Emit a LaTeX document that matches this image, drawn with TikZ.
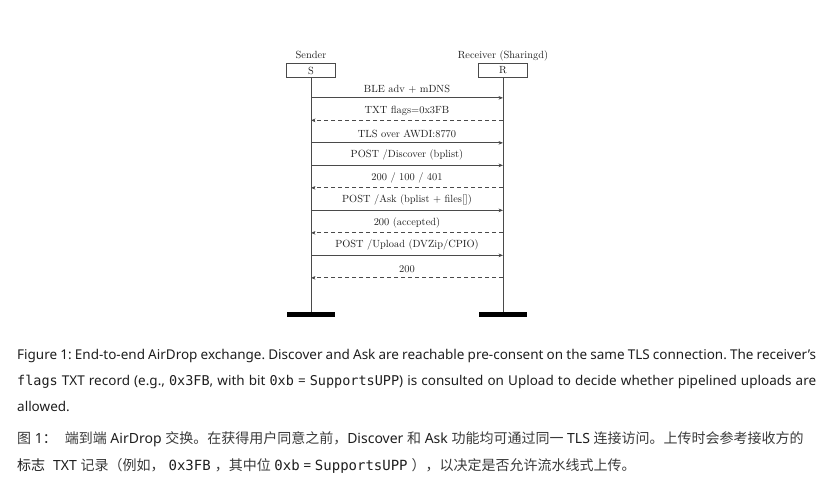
\documentclass[tikz,border=0pt]{standalone}
\usepackage{fontspec}
\usetikzlibrary{arrows.meta,calc,positioning}
\newfontfamily\capfont{Noto Sans}
\newfontfamily\capmono{DejaVu Sans Mono}
\newfontfamily\cjkfont{Noto Sans CJK SC}
\definecolor{InkDark}{HTML}{1E1E1E}
\definecolor{InkLine}{HTML}{4A4A4A}
\definecolor{InkCJK}{HTML}{3A3A3A}
\newcommand{\seqfont}{\fontsize{10.4}{12}\selectfont}
\newcommand{\capsize}{\fontsize{13.5}{16}\selectfont}
\newcommand{\zhsize}{\fontsize{14}{17}\selectfont}
\newcommand{\cm}[1]{{\capmono #1}}
\tikzset{
  actor/.style={rectangle, draw=InkLine, line width=0.7pt, minimum width=49pt,
             minimum height=14pt, inner sep=0pt, font=\seqfont, text=InkDark},
  alabel/.style={font=\seqfont, text=InkDark, inner sep=0pt, anchor=base},
  lifeline/.style={line width=0.9pt, draw=InkLine},
  endbar/.style={rectangle, fill=black, minimum width=48pt, minimum height=5pt, inner sep=0pt},
  capline/.style={font=\capfont\capsize\frenchspacing, text=InkDark, inner sep=0pt, anchor=base west},
  zhline/.style={capline, font=\capfont\zhsize},
}
\begin{document}
\begin{tikzpicture}[x=1pt, y=-1pt,
  msg/.style={-{Stealth[length=4.5pt, width=3.6pt]}, line width=0.8pt, draw=InkLine},
  reply/.style={msg, dashed, dash pattern=on 4pt off 3pt},
  mlabel/.style={font=\seqfont, text=InkDark, inner sep=0pt, above=4.5pt},
]
\useasboundingbox (0,0) rectangle (839,490);
% ---------- actors
\node[actor] (S) at (311,70.5) {S};
\node[actor] (R) at (503,70.5) {R};
\node[alabel] (Slbl) at (311,58.5) {Sender};
\node[alabel] (Rlbl) at (503,58.5) {Receiver (Sharingd)};
\node[endbar] (Sbar) at (311,314.5) {};
\node[endbar] (Rbar) at (503,314.5) {};
\draw[lifeline] (S.south) -- (Sbar.north);
\draw[lifeline] (R.south) -- (Rbar.north);
% ---------- messages (s = sender to receiver, r = reply)
\foreach \i/\kind/\txt in {0/s/{BLE adv + mDNS},1/r/{TXT flags=0x3FB},2/s/{TLS over AWDI:8770},
    3/s/{POST /Discover (bplist)},4/r/{200 / 100 / 401},5/s/{POST /Ask (bplist + files[])},
    6/r/{200 (accepted)},7/s/{POST /Upload (DVZip/CPIO)},8/r/{200}}{
  \coordinate (s\i) at ($(S.south) + (0,20+22.5*\i)$);
  \coordinate (r\i) at ($(R.south) + (0,20+22.5*\i)$);
  \if\kind s
    \draw[msg] (s\i) -- node[mlabel] (m\i) {\txt} (r\i);
  \else
    \draw[reply] (r\i) -- node[mlabel] (m\i) {\txt} (s\i);
  \fi
}
% ---------- caption, English
\node[capline] (c1) at (17,359) {\makebox[799pt][s]{Figure 1: End-to-end AirDrop exchange. Discover and Ask are reachable pre-consent on the same TLS connection. The receiver’s}};
\node[capline] (c2) at (17,385) {\makebox[799pt][s]{\cm{flags} TXT record (e.g., \cm{0x3FB}, with bit \cm{0xb} = \cm{SupportsUPP}) is consulted on Upload to decide whether pipelined uploads are}};
\node[capline] (c3) at (17,411) {allowed.};
% ---------- caption, Chinese
\node[zhline] (z1) at (17,443) {{\cjkfont\color{InkCJK}图} 1{\cjkfont：}\hspace{8pt}{\cjkfont\color{InkCJK}端到端} AirDrop {\cjkfont\color{InkCJK}交换。在获得用户同意之前，}Discover {\cjkfont\color{InkCJK}和} Ask {\cjkfont\color{InkCJK}功能均可通过同一} TLS {\cjkfont\color{InkCJK}连接访问。上传时会参考接收方的}};
\node[zhline] (z2) at (17,470) {{\cjkfont 标志}\hspace{8pt}TXT {\cjkfont\color{InkCJK}记录（例如，}\hspace{4pt}\cm{0x3FB}\hspace{4pt}{\cjkfont\color{InkCJK}，其中位} \cm{0xb} = \cm{SupportsUPP}\hspace{4pt}{\cjkfont\color{InkCJK}），以决定是否允许流水线式上传。}};
\end{tikzpicture}
\end{document}
